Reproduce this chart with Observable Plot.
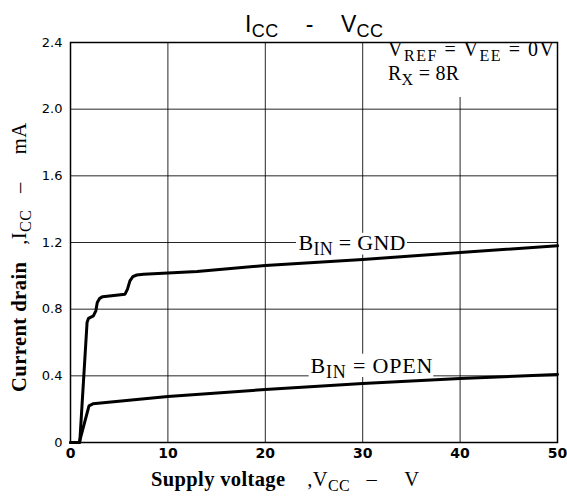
<!DOCTYPE html>
<html>
<head>
<meta charset="utf-8">
<script src="https://cdn.jsdelivr.net/npm/d3@7"></script>
<script src="https://cdn.jsdelivr.net/npm/@observablehq/plot@0.6"></script>
<style>
  html, body { margin: 0; padding: 0; background: #fff; }
  svg text { fill: #000; }
</style>
</head>
<body>
<div id="chart"></div>
<script>
// ---- data ----
const gndV = [0, 0.95, 1.7, 1.85, 2.35, 2.6, 2.75, 3.0, 3.3, 5.6, 5.85, 6.1, 6.4, 6.8, 7.5, 13, 20, 30, 40, 50];
const gndI = [0, 0, 0.72, 0.745, 0.76, 0.79, 0.84, 0.865, 0.875, 0.89, 0.92, 0.97, 0.995, 1.005, 1.01, 1.026, 1.062, 1.098, 1.14, 1.18];
const openV = [0, 0.9, 1.9, 2.3, 10, 20, 30, 40, 50];
const openI = [0, 0, 0.22, 0.232, 0.276, 0.318, 0.354, 0.384, 0.408];

const xTicks = [0, 10, 20, 30, 40, 50];
const yTicks = [0, 0.4, 0.8, 1.2, 1.6, 2.0, 2.4];

const curveLabels = ["B_{IN} = GND", "B_{IN} = OPEN"];
const curveLabelX = [28.9, 30.9];
const curveLabelY = [1.2, 0.462];
const labelBoxX1 = [23.2, 24.5];
const labelBoxX2 = [34.6, 37.3];
const labelBoxY1 = [1.125, 0.39];
const labelBoxY2 = [1.255, 0.53];

const noteLines = ["V_{REF} = V_{EE} = 0V", "R_{X} = 8R"];
const noteX = 32.6;
const noteBox = {x1: 32, x2: 50, y1: 2.07, y2: 2.4};

const titleText = "I_{CC}    -    V_{CC}";
const xTitle = "Supply voltage    ,V_{CC}   –     V";
const yTitle = "Current drain   ,I_{CC}   –     mA";

// target widths (px) of the texts
const textWidths = {
  [titleText]: 138,
  [noteLines[0]]: 166,
  [noteLines[1]]: 71,
  [curveLabels[0]]: 107,
  [curveLabels[1]]: 122,
  [xTitle]: 268,
  [yTitle]: 269
};

// ---- tables ----
const series = [
  ...gndV.map((v, i) => ({v, i: gndI[i], s: "GND"})),
  ...openV.map((v, i) => ({v, i: openI[i], s: "OPEN"}))
];
const labels = curveLabels.map((t, k) => ({t, x: curveLabelX[k], y: curveLabelY[k]}));
const boxes = curveLabels.map((t, k) => ({x1: labelBoxX1[k], x2: labelBoxX2[k], y1: labelBoxY1[k], y2: labelBoxY2[k]}));
boxes.push(noteBox);

const serif = "'Liberation Serif', 'Times New Roman', serif";
const sans = "'Liberation Sans', Arial, sans-serif";

const chart = Plot.plot({
  width: 567,
  height: 496,
  marginLeft: 70,
  marginRight: 10,
  marginTop: 42,
  marginBottom: 54,
  x: {domain: [0, 50]},
  y: {domain: [0, 2.4]},
  style: {background: "#fff", color: "#000"},
  marks: [
    Plot.ruleX(xTicks, {stroke: "#000", strokeWidth: 1, strokeOpacity: 0.85}),
    Plot.ruleY(yTicks, {stroke: "#000", strokeWidth: 1, strokeOpacity: 0.85}),
    Plot.rect(boxes, {x1: "x1", x2: "x2", y1: "y1", y2: "y2", fill: "#fff"}),
    Plot.line(series, {x: "v", y: "i", z: "s", stroke: "#000", strokeWidth: 3, strokeLinejoin: "round", strokeLinecap: "round"}),
    Plot.frame({stroke: "#000", strokeWidth: 1.5}),
    Plot.axisX({ticks: xTicks, tickSize: 0, tickPadding: 6, fontSize: 14, fontWeight: "bold", fontFamily: "'DejaVu Sans', sans-serif", tickFormat: d => String(d)}),
    Plot.axisY({ticks: yTicks, tickSize: 0, tickPadding: 8, fontSize: 13, fontFamily: "'DejaVu Sans', sans-serif", tickFormat: d => d === 0 ? "0" : d.toFixed(1)}),
    Plot.text(labels, {x: "x", y: "y", text: "t", fontSize: 22, fontFamily: serif, lineAnchor: "middle", textAnchor: "middle"}),
    Plot.text(noteLines, {text: d => d, x: () => noteX, y: () => 2.4, textAnchor: "start", lineAnchor: "bottom", fontSize: 20, fontFamily: serif, filter: (d, k) => k === 0, dy: 13}),
    Plot.text(noteLines, {text: d => d, x: () => noteX, y: () => 2.4, textAnchor: "start", lineAnchor: "bottom", fontSize: 20, fontFamily: serif, filter: (d, k) => k === 1, dy: 37}),
    Plot.text([titleText], {text: d => d, frameAnchor: "top", lineAnchor: "bottom", textAnchor: "middle", dx: 0, dy: -11, fontSize: 23, fontFamily: sans, fontWeight: 300}),
    Plot.text([xTitle], {text: d => d, frameAnchor: "bottom", lineAnchor: "bottom", textAnchor: "middle", dx: -29, dy: 43, fontSize: 20.5, fontFamily: serif}),
    Plot.text([yTitle], {text: d => d, frameAnchor: "left", rotate: -90, lineAnchor: "middle", textAnchor: "middle", dx: -51, dy: 15, fontSize: 20.5, fontFamily: serif})
  ]
});

document.getElementById("chart").appendChild(chart);

// ---- turn "_{..}" markup into subscript tspans, and bold lead words ----
function richText(node) {
  const raw = node.textContent;
  const width = textWidths[raw];
  if (!raw.includes("_{") && !raw.startsWith("Supply") && !raw.startsWith("Current")) return;
  const fs = parseFloat(node.getAttribute("font-size")) || parseFloat(getComputedStyle(node).fontSize) || 16;
  const parts = [];
  const re = /_\{([^}]*)\}/g;
  let last = 0, m;
  while ((m = re.exec(raw))) {
    if (m.index > last) parts.push({t: raw.slice(last, m.index), sub: false});
    parts.push({t: m[1], sub: true});
    last = re.lastIndex;
  }
  if (last < raw.length) parts.push({t: raw.slice(last), sub: false});
  const boldLeads = ["Supply voltage", "Current drain"];
  const out = [];
  parts.forEach(p => {
    const lead = boldLeads.find(b => !p.sub && p.t.startsWith(b));
    if (lead) {
      out.push({t: lead, sub: false, bold: true});
      out.push({t: p.t.slice(lead.length), sub: false});
    } else out.push(p);
  });
  while (node.firstChild) node.removeChild(node.firstChild);
  const ns = "http://www.w3.org/2000/svg";
  const shift = fs * 0.25;
  let lowered = false;
  out.forEach(p => {
    const ts = document.createElementNS(ns, "tspan");
    ts.textContent = p.t;
    ts.style.whiteSpace = "pre";
    if (p.bold) ts.setAttribute("font-weight", "bold");
    if (p.sub && !lowered) { ts.setAttribute("dy", shift); lowered = true; }
    if (!p.sub && lowered) { ts.setAttribute("dy", -shift); lowered = false; }
    if (p.sub) ts.setAttribute("font-size", Math.round(fs * 0.8));
    node.appendChild(ts);
  });
  if (width) {
    const natural = node.getComputedTextLength();
    const r = width / natural;
    if (r > 0.85 && r < 1.2) {
      node.setAttribute("textLength", width);
      node.setAttribute("lengthAdjust", "spacing");
    }
  }
}
d3.select(chart).selectAll("text").style("white-space", "pre");
d3.select(chart).selectAll("text").each(function() { richText(this); });
</script>
</body>
</html>
